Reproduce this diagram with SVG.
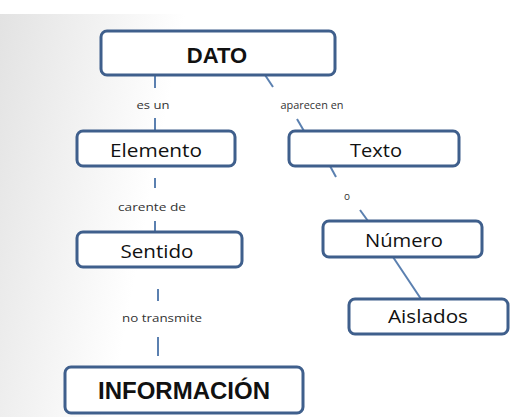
<svg xmlns="http://www.w3.org/2000/svg" width="525" height="417" viewBox="0 0 525 417">
<defs>
<linearGradient id="bg" x1="0" y1="0" x2="1" y2="0.15">
<stop offset="0" stop-color="#e2e2e2"/>
<stop offset="0.35" stop-color="#ffffff"/>
<stop offset="1" stop-color="#ffffff"/>
</linearGradient>
<style>
.box{fill:#fff;stroke:#3f5f8c;stroke-width:3}
.lbl{font-family:"Open Sans","Liberation Sans",Arial,sans-serif;font-size:18px;fill:#111;text-anchor:middle}
.big{font-family:"Liberation Sans",Arial,sans-serif;font-weight:bold;fill:#111;text-anchor:middle}
.sm{font-family:"Open Sans","Liberation Sans",Arial,sans-serif;font-size:10px;fill:#333;text-anchor:middle}
.ln{stroke:#5b80b0;stroke-width:2;fill:none}
</style>
</defs>
<rect width="525" height="417" fill="url(#bg)"/>
<rect x="0" y="0" width="525" height="14" fill="#fff"/>
<g id="connectors">
<line class="ln" x1="155" y1="75" x2="155" y2="88"/>
<line class="ln" x1="155" y1="118" x2="155" y2="131"/>
<line class="ln" x1="265" y1="75" x2="273" y2="87"/>
<line class="ln" x1="297" y1="119" x2="304" y2="131"/>
<line class="ln" x1="155" y1="178" x2="155" y2="188"/>
<line class="ln" x1="155" y1="221" x2="155" y2="232"/>
<line class="ln" x1="330" y1="166" x2="336" y2="177"/>
<line class="ln" x1="360" y1="210" x2="368" y2="221"/>
<line class="ln" x1="393" y1="257" x2="421" y2="299"/>
<line class="ln" x1="158" y1="289" x2="158" y2="301"/>
<line class="ln" x1="158" y1="337" x2="158" y2="356"/>
<text class="sm" x="153" y="109" textLength="33" lengthAdjust="spacingAndGlyphs">es un</text>
<text class="sm" x="312" y="109" textLength="63" lengthAdjust="spacingAndGlyphs">aparecen en</text>
<text class="sm" x="152" y="211" textLength="68" lengthAdjust="spacingAndGlyphs">carente de</text>
<text class="sm" x="347" y="200">o</text>
<text class="sm" x="162" y="322" textLength="80" lengthAdjust="spacingAndGlyphs">no transmite</text>
</g>
<g id="dato">
<rect class="box" x="101" y="31" width="234" height="44" rx="6"/>
<text class="big" x="217" y="63" font-size="22">DATO</text>
</g>
<g id="elemento">
<rect class="box" x="77" y="131" width="158" height="35" rx="6"/>
<text class="lbl" x="156" y="157" textLength="92" lengthAdjust="spacingAndGlyphs">Elemento</text>
</g>
<g id="texto">
<rect class="box" x="289" y="131" width="170" height="35" rx="6"/>
<text class="lbl" x="376" y="157" textLength="52" lengthAdjust="spacingAndGlyphs">Texto</text>
</g>
<g id="sentido">
<rect class="box" x="77" y="232" width="165" height="35" rx="6"/>
<text class="lbl" x="157" y="258" textLength="73" lengthAdjust="spacingAndGlyphs">Sentido</text>
</g>
<g id="numero">
<rect class="box" x="323" y="221" width="159" height="36" rx="6"/>
<text class="lbl" x="404" y="247" textLength="78" lengthAdjust="spacingAndGlyphs">Número</text>
</g>
<g id="aislados">
<rect class="box" x="349" y="299" width="159" height="35" rx="6"/>
<text class="lbl" x="428" y="323" textLength="80" lengthAdjust="spacingAndGlyphs">Aislados</text>
</g>
<g id="informacion">
<rect class="box" x="65" y="367" width="238" height="46" rx="6"/>
<text class="big" x="184" y="399" font-size="24">INFORMACIÓN</text>
</g>
</svg>
